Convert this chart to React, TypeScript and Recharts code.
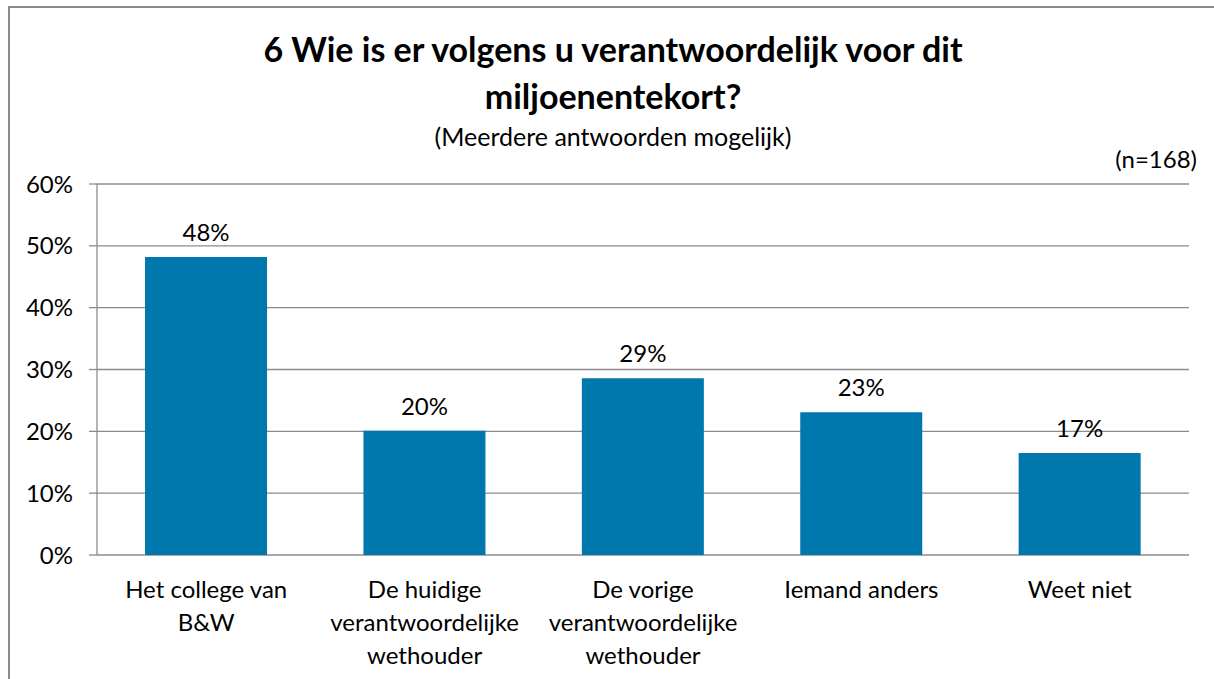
import { BarChart, Bar, XAxis, YAxis, CartesianGrid, LabelList } from 'recharts'

const categories = [
  'Het college van B&W',
  'De huidige verantwoordelijke wethouder',
  'De vorige verantwoordelijke wethouder',
  'Iemand anders',
  'Weet niet',
]
const tickLines = [
  ['Het college van', 'B&W'],
  ['De huidige', 'verantwoordelijke', 'wethouder'],
  ['De vorige', 'verantwoordelijke', 'wethouder'],
  ['Iemand anders'],
  ['Weet niet'],
]
const percentages = [48.2, 20.1, 28.6, 23.1, 16.5]
const yTicks = [0, 10, 20, 30, 40, 50, 60]
const boundaryTicks = [0, 1, 2, 3, 4, 5]

const FONT = 'Lato, "Open Sans", sans-serif'
const GRID = '#8c8c8c'

const data = categories.map((name, i) => ({ name, value: percentages[i] }))

function CategoryTick(props: any) {
  const { x, y, index } = props
  const lines = tickLines[index] || []
  return (
    <text x={x} y={y} textAnchor="middle" fill="#000" fontSize={24} fontFamily={FONT}>
      {lines.map((line, i) => (
        <tspan key={i} x={x} y={y + 43 + i * 33}>
          {line}
        </tspan>
      ))}
    </text>
  )
}

export default function App() {
  return (
    <div style={{ position: 'fixed', inset: 0, overflow: 'hidden', background: '#fff', fontFamily: FONT }}>
      <div
        style={{
          position: 'absolute',
          left: 8,
          top: 6,
          width: 1300,
          height: 800,
          border: `2px solid ${GRID}`,
        }}
      />

      <div style={{ position: 'absolute', left: 0, top: 0 }}>
        <BarChart
          width={1214}
          height={679}
          data={data}
          margin={{ top: 184, right: 25, left: 17, bottom: 24 }}
          barCategoryGap="22%"
        >
          <CartesianGrid vertical={false} stroke={GRID} strokeWidth={1.3} />
          <XAxis
            xAxisId="bounds"
            type="number"
            domain={[0, 5]}
            ticks={boundaryTicks}
            tick={false}
            tickSize={8}
            height={0}
            stroke={GRID}
            strokeWidth={1.3}
            allowDataOverflow
          />
          <XAxis
            xAxisId="cat"
            dataKey="name"
            interval={0}
            height={100}
            tickSize={0}
            tickMargin={0}
            tickLine={false}
            axisLine={false}
            tick={<CategoryTick />}
          />
          <YAxis
            width={80}
            domain={[0, 60]}
            ticks={yTicks}
            interval={0}
            tickFormatter={(v: number) => `${v}%`}
            tickSize={8}
            tickMargin={16}
            stroke={GRID}
            strokeWidth={1.3}
            tick={{ fill: '#000', fontSize: 24, fontFamily: FONT }}
          />
          <Bar dataKey="value" xAxisId="cat" fill="#0077ad" isAnimationActive={false}>
            <LabelList
              dataKey="value"
              position="top"
              offset={16}
              formatter={(v: number) => `${Math.round(v)}%`}
              style={{ fill: '#000', fontSize: 24, fontFamily: FONT }}
            />
          </Bar>
        </BarChart>
      </div>

      <div
        style={{
          position: 'absolute',
          left: 0,
          width: 1226,
          top: 25,
          textAlign: 'center',
          fontWeight: 700,
          fontSize: 34,
          lineHeight: '47px',
          color: '#000',
        }}
      >
        6 Wie is er volgens u verantwoordelijk voor dit
        <br />
        miljoenentekort?
      </div>
      <div
        style={{
          position: 'absolute',
          left: 0,
          width: 1226,
          top: 121,
          textAlign: 'center',
          fontSize: 25,
          lineHeight: '30px',
          color: '#000',
        }}
      >
        (Meerdere antwoorden mogelijk)
      </div>
      <div
        style={{
          position: 'absolute',
          right: 17,
          top: 144,
          fontSize: 24,
          lineHeight: '29px',
          color: '#000',
        }}
      >
        (n=168)
      </div>
    </div>
  )
}
